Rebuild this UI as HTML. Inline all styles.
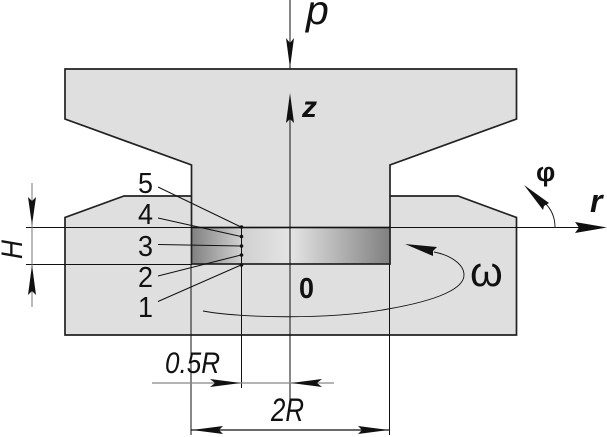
<!DOCTYPE html>
<html><head><meta charset="utf-8"><style>
html,body{margin:0;padding:0;background:#fff;width:607px;height:437px;overflow:hidden}
svg{display:block}
text{font-family:"Liberation Sans",sans-serif;fill:#111}
</style></head><body>
<svg width="607" height="437" viewBox="0 0 607 437" xmlns="http://www.w3.org/2000/svg">
<defs>
<linearGradient id="g" x1="0" x2="1" y1="0" y2="0">
<stop offset="0" stop-color="#808080"/><stop offset=".25" stop-color="#d0d0d0"/><stop offset=".5" stop-color="#e4e4e4"/><stop offset="1" stop-color="#808080"/>
</linearGradient>
</defs>
<path d="M65 69H516.5V119L390 165V196H458L516.5 217.500V335H65V217.500L124 196H191.500V165L65 119Z" fill="#dfdfdf"/>
<path d="M191.500 227V165L65 119V69H516.500V119L390 165V227" fill="none" stroke="#222" stroke-width="1.700"/>
<path d="M191.500 196H124L65 217.500V335H516.500V217.500L458 196H390" fill="none" stroke="#222" stroke-width="1.700"/>
<rect x="191.500" y="227.500" width="198.500" height="36.500" fill="url(#g)" stroke="#222" stroke-width="1.700"/>
<g stroke="#111" stroke-width="1" fill="none">
<path d="M290 0V69M290 100V408"/>
<path d="M191 264V435M389.500 264V435M241.500 227V388"/>
<path d="M26 227.500H580M26 264.500H192"/>
<path d="M32 183V307" stroke="#777"/>
<path d="M158 187L241 227M158 218L241 236.500M158 244.500L241 246M158 276L241 255M158 301.500L241 265"/>
<path d="M203 311C240 318 330 320 388 309C440 300 464 288 464 275C464 264 450 255 434 252" stroke-width=".9"/>
<path d="M555 227C555 216 550 208 545 203" stroke-width=".9"/>
</g>
<path d="M152 383H334" stroke="#888" stroke-width="1.200"/>
<path d="M191 430H389" stroke="#111" stroke-width="1.200"/>
<g fill="#111">
<circle cx="241.500" cy="227" r="1.800"/><circle cx="241.500" cy="236.500" r="1.800"/><circle cx="241.500" cy="246" r="1.800"/><circle cx="241.500" cy="255" r="1.800"/><circle cx="241.500" cy="265" r="1.800"/>
<path d="M290 68L286 38L290 43L294 38Z"/>
<path d="M290 93L286 123L290 119L294 123Z"/>
<path d="M32 225L28 197L32 201L36 197Z"/>
<path d="M32 265L28 295L32 291L36 295Z"/>
<path d="M607 227.500L575 222L579 227.500L575 233Z"/>
<path d="M524 185L549 203L544 206L543 210Z"/>
<path d="M405 244L437 247L433 251L433 256Z"/>
<path d="M241 383L210 379L215 383L210 387Z"/>
<path d="M291 383L322 379L317 383L322 387Z"/>
<path d="M192 430L223 426L219 430L223 434Z"/>
<path d="M389 430L358 426L362 430L358 434Z"/>
</g>
<g font-size="29">
<text x="138" y="193" textLength="15" lengthAdjust="spacingAndGlyphs">5</text><text x="138" y="224" textLength="15" lengthAdjust="spacingAndGlyphs">4</text><text x="138" y="256" textLength="15" lengthAdjust="spacingAndGlyphs">3</text><text x="138" y="287" textLength="15" lengthAdjust="spacingAndGlyphs">2</text><text x="138" y="317" textLength="15" lengthAdjust="spacingAndGlyphs">1</text>
</g>
<text x="306" y="24" font-size="41" font-style="italic">p</text>
<text x="302" y="117" font-size="30" font-weight="bold" font-style="italic">z</text>
<text x="299" y="298" font-size="29" font-weight="bold" textLength="15" lengthAdjust="spacingAndGlyphs">0</text>
<text x="470" y="286" font-size="42">ω</text>
<text x="536" y="181" font-size="27" font-weight="bold">φ</text>
<text x="590" y="212" font-size="32" font-weight="bold" font-style="italic">r</text>
<text x="165" y="373" font-size="30" font-style="italic" textLength="55" lengthAdjust="spacingAndGlyphs">0.5R</text>
<text x="271" y="421" font-size="32" font-style="italic" textLength="33" lengthAdjust="spacingAndGlyphs">2R</text>
<text transform="translate(22 259) rotate(-90)" font-size="30" font-style="italic" textLength="19" lengthAdjust="spacingAndGlyphs">H</text>
</svg>
</body></html>
